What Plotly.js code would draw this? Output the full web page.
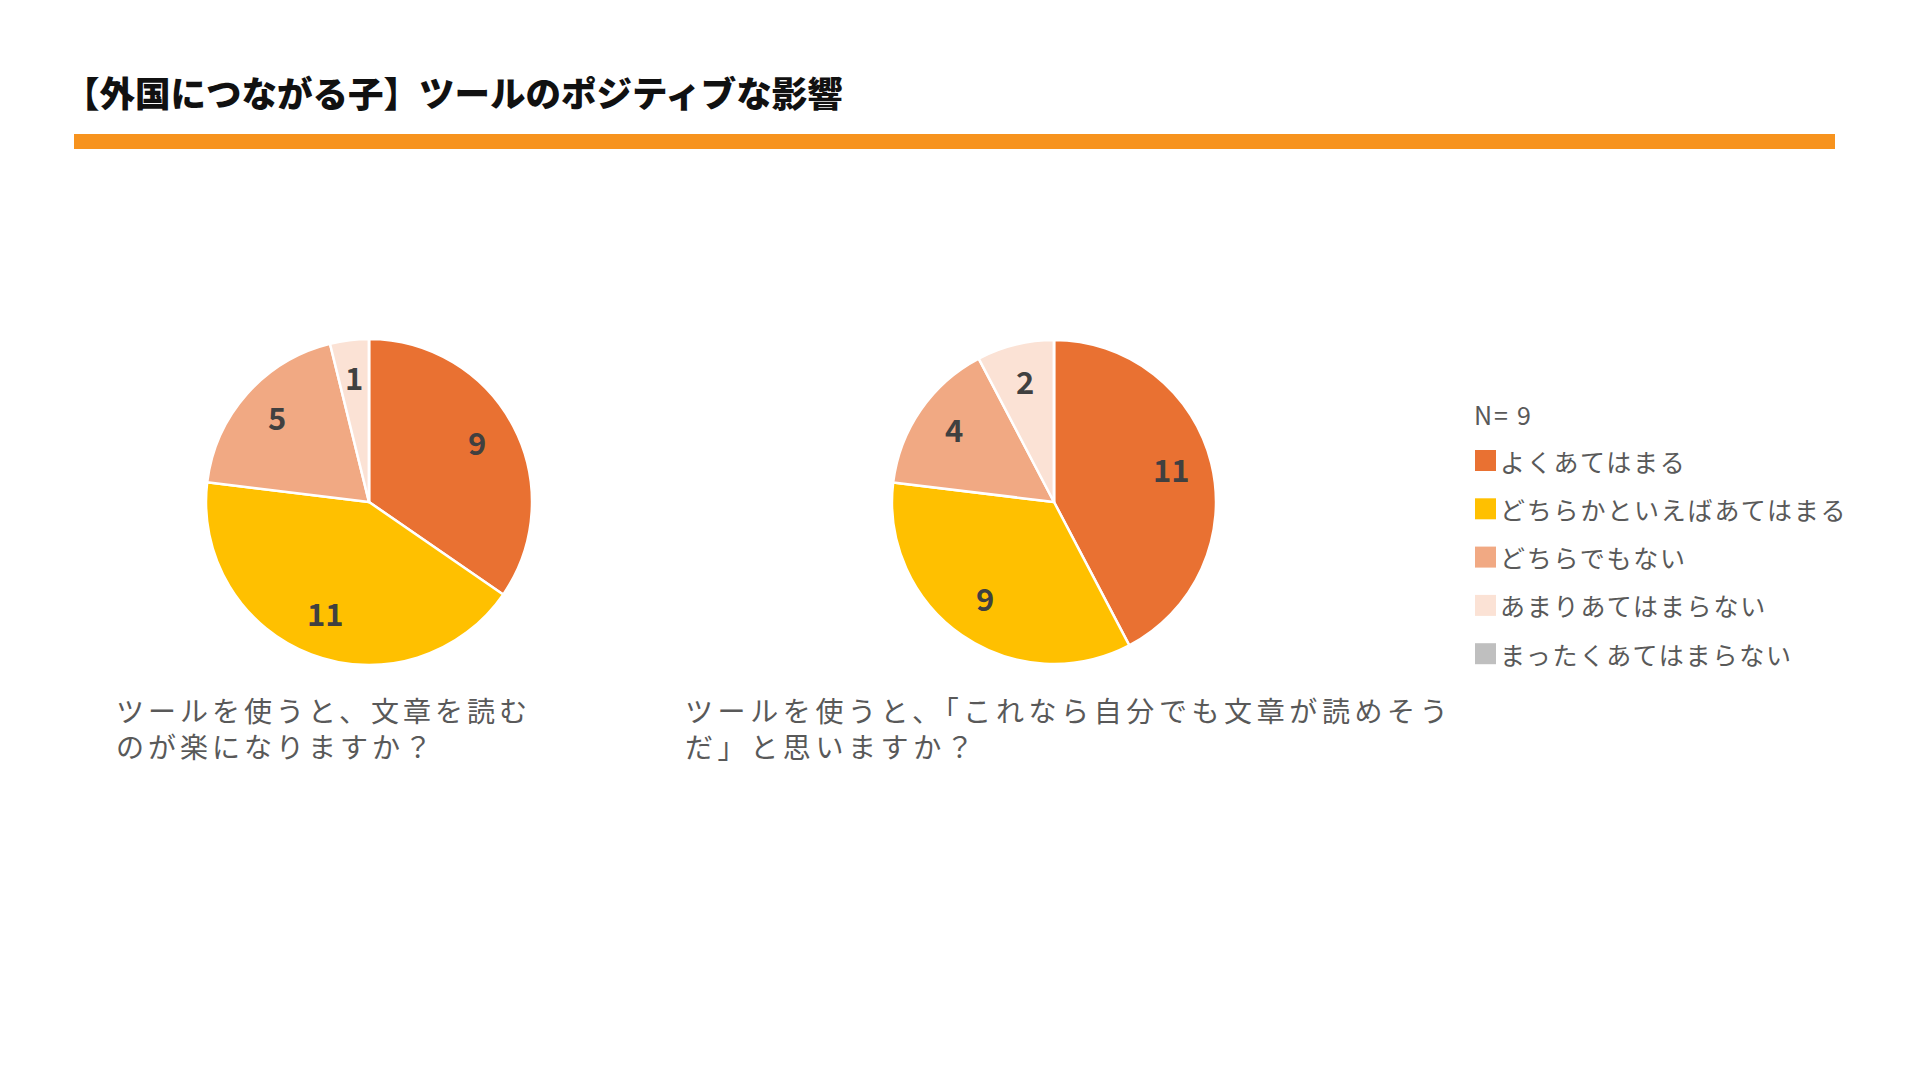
<!DOCTYPE html>
<html>
<head>
<meta charset="utf-8">
<script src="https://cdn.plot.ly/plotly-3.0.1.min.js"></script>
<style>
html,body{margin:0;padding:0;background:#fff;}
#chart{width:1920px;height:1080px;}
</style>
</head>
<body>
<div id="chart"></div>
<script>
// ---- data ----
const categories = ["よくあてはまる", "どちらかといえばあてはまる", "どちらでもない", "あまりあてはまらない", "まったくあてはまらない"];
const colors = ["#E97132", "#FFC000", "#F1A983", "#FBE2D5", "#BFBFBF"];
const valuesQ1 = [9, 11, 5, 1, 0];
const valuesQ2 = [11, 9, 4, 2, 0];
const captionQ1 = "ツールを使うと、文章を読む<br>のが楽になりますか？";
const captionQ2 = "ツールを使うと、「これなら自分でも文章が読めそう<br>だ」と思いますか？";
const chartTitle = "【外国につながる子】ツールのポジティブな影響";
const nLabel = "N= 9";

const W = 1920, H = 1080;
const px = x => x / W;
const py = y => 1 - y / H;
const FONT = '"Noto Sans CJK JP", "Noto Sans", sans-serif';

const pies = [
  {values: valuesQ1, cx: 369, cy: 502, r: 163},
  {values: valuesQ2, cx: 1054, cy: 502, r: 162}
];

function pieTrace(p) {
  return {
    type: 'pie',
    labels: categories,
    values: p.values,
    sort: false,
    direction: 'clockwise',
    rotation: 0,
    marker: {colors: colors, line: {color: '#ffffff', width: 2.5}},
    textinfo: 'none',
    domain: {x: [px(p.cx - p.r), px(p.cx + p.r)], y: [py(p.cy + p.r), py(p.cy - p.r)]},
    showlegend: false,
    hoverinfo: 'label+value'
  };
}

const data = pies.map(pieTrace);

const annotations = [
  {text: captionQ1, x: px(114), y: py(688), xref: 'paper', yref: 'paper', xanchor: 'left', yanchor: 'top', align: 'left', showarrow: false,
   font: {family: FONT, size: 28, color: '#595959'}, name: 'caption1'},
  {text: captionQ2, x: px(683), y: py(688), xref: 'paper', yref: 'paper', xanchor: 'left', yanchor: 'top', align: 'left', showarrow: false,
   font: {family: FONT, size: 28, color: '#595959'}, name: 'caption2'},
  {text: nLabel, x: px(1472), y: py(414), xref: 'paper', yref: 'paper', xanchor: 'left', yanchor: 'middle', align: 'left', showarrow: false,
   font: {family: FONT, size: 25, color: '#595959'}, name: 'legend'}
];

// value labels placed along each slice's bisector, derived from the values
pies.forEach(p => {
  const total = p.values.reduce((a, b) => a + b, 0);
  let cum = 0;
  p.values.forEach(v => {
    if (v > 0) {
      const mid = (cum + v / 2) / total * 2 * Math.PI;
      const d = 0.75 * p.r;
      annotations.push({text: String(v), x: px(p.cx + d * Math.sin(mid)), y: py(p.cy - 4 - d * Math.cos(mid)),
        xref: 'paper', yref: 'paper', xanchor: 'center', yanchor: 'middle', showarrow: false,
        font: {family: FONT, size: 31, color: '#404040', weight: 'bold'}});
    }
    cum += v;
  });
});

const shapes = [
  {type: 'rect', xref: 'paper', yref: 'paper', x0: px(74), x1: px(1835), y0: py(149), y1: py(134), fillcolor: '#F7931E', line: {width: 0}}
];
// legend built from the category and colour arrays
categories.forEach((c, i) => {
  const yc = 460.5 + i * 48.3;
  shapes.push({type: 'rect', xref: 'paper', yref: 'paper', x0: px(1475), x1: px(1496), y0: py(yc + 10.5), y1: py(yc - 10.5), fillcolor: colors[i], line: {width: 0}});
  annotations.push({text: c, x: px(1498), y: py(yc), xref: 'paper', yref: 'paper', xanchor: 'left', yanchor: 'middle', align: 'left', showarrow: false,
    font: {family: FONT, size: 25, color: '#595959'}, name: 'legend'});
});

const layout = {
  width: W, height: H,
  margin: {l: 0, r: 0, t: 0, b: 0},
  paper_bgcolor: '#ffffff',
  plot_bgcolor: '#ffffff',
  title: {text: chartTitle, x: px(64), xref: 'paper', xanchor: 'left', y: py(95), yref: 'paper', yanchor: 'middle',
    font: {family: FONT, size: 35.5, color: '#111111', weight: 900}},
  annotations: annotations,
  shapes: shapes,
  showlegend: false
};

Plotly.newPlot('chart', data, layout, {displayModeBar: false, staticPlot: true}).then(() => {
  // widen character spacing of caption and legend texts to match the reference typography
  document.querySelectorAll('.annotation').forEach((g, i) => {
    const t = g.querySelector('text');
    if (!t) return;
    const ann = layout.annotations[i];
    if (!ann) return;
    if (ann.name === 'caption1') t.style.letterSpacing = '4px';
    if (ann.name === 'caption2') t.style.letterSpacing = '4.6px';
    if (ann.name === 'legend') t.style.letterSpacing = '1.8px';
  });
});
</script>
</body>
</html>
